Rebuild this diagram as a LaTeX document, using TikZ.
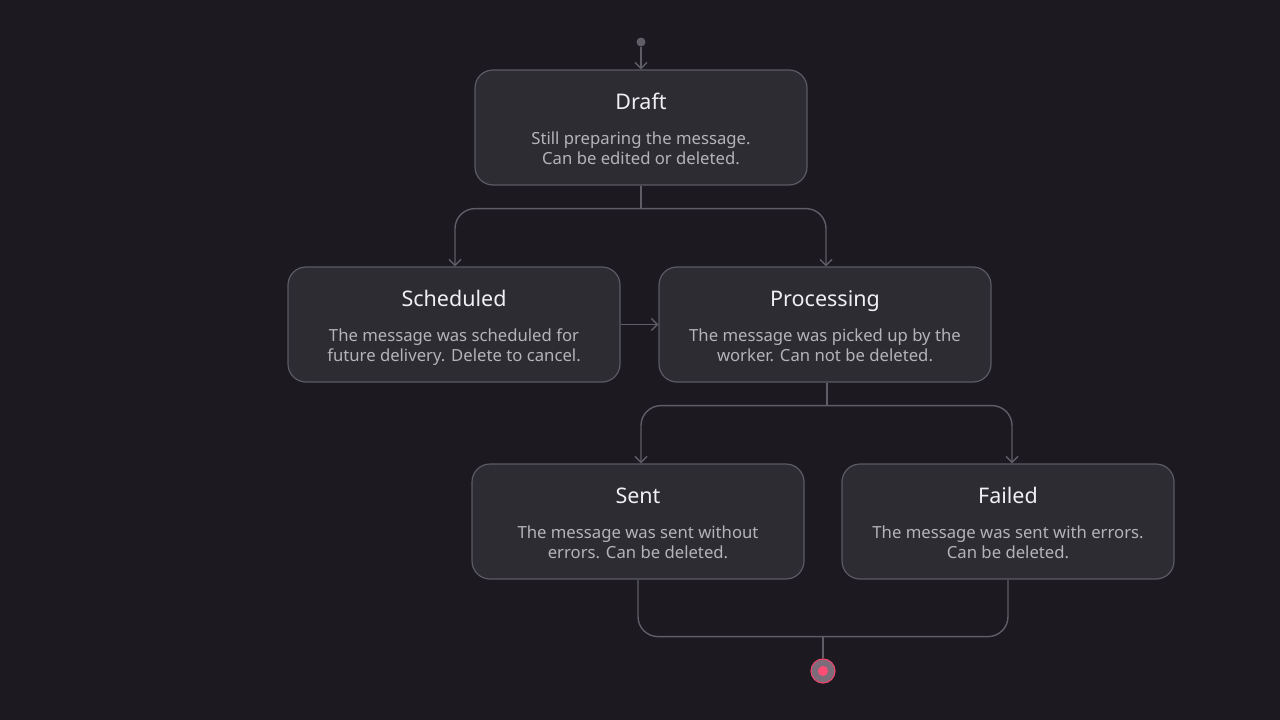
\documentclass[tikz,border=0pt]{standalone}
\usepackage{fontspec}
\setmainfont{Noto Sans}
\usetikzlibrary{arrows.meta,calc}
\definecolor{bg}{HTML}{1C1A20}
\definecolor{boxfill}{HTML}{2E2C33}
\definecolor{boxline}{HTML}{5C5A62}
\definecolor{conn}{HTML}{5F5D65}
\definecolor{titlec}{HTML}{F0EFF2}
\definecolor{bodyc}{HTML}{B5B3BA}
\definecolor{endring}{HTML}{E5486C}
\definecolor{endfill}{HTML}{7D6C79}
\definecolor{enddot}{HTML}{FF4D73}
\tikzset{
  statebox/.style={draw=boxline, fill=boxfill, line width=1.2pt, rounded corners=18pt,
    minimum width=332pt, minimum height=115pt, inner sep=0pt},
  titletext/.style={text=titlec, font=\fontsize{21.5}{26}\selectfont, inner sep=0pt, anchor=base},
  bodytext/.style={text=bodyc, font=\fontsize{16.7}{20}\selectfont, align=center, inner sep=0pt, anchor=base},
  connline/.style={draw=conn, line width=1.4pt},
  arr/.style={connline, -{Straight Barb[length=6pt,width=12pt]}},
}
\begin{document}
\begin{tikzpicture}[x=1pt,y=-1pt]
\fill[bg] (0,0) rectangle (1280,720);
\useasboundingbox (0,0) rectangle (1280,720);

\node[statebox] (draft) at (641,127.5) {};
\node[titletext] (draftT) at ($(draft.north)+(0,40)$) {Draft};
\node[bodytext] (draftB) at ($(draft.north)+(0,95)$) {Still preparing the message.\\Can be edited or deleted.};

\node[statebox] (sched) at (454,324.5) {};
\node[titletext] (schedT) at ($(sched.north)+(0,40)$) {Scheduled};
\node[bodytext] (schedB) at ($(sched.north)+(0,95)$) {The message was scheduled for\\future delivery. Delete to cancel.};

\node[statebox] (proc) at (825,324.5) {};
\node[titletext] (procT) at ($(proc.north)+(0,40)$) {Processing};
\node[bodytext] (procB) at ($(proc.north)+(0,95)$) {The message was picked up by the\\worker. Can not be deleted.};

\node[statebox] (sent) at (638,521.5) {};
\node[titletext] (sentT) at ($(sent.north)+(0,40)$) {Sent};
\node[bodytext] (sentB) at ($(sent.north)+(0,95)$) {The message was sent without\\errors. Can be deleted.};

\node[statebox] (failed) at (1008,521.5) {};
\node[titletext] (failedT) at ($(failed.north)+(0,40)$) {Failed};
\node[bodytext] (failedB) at ($(failed.north)+(0,95)$) {The message was sent with errors.\\Can be deleted.};

\node[circle, fill=conn, minimum size=9pt, inner sep=0pt] (start) at (641,42) {};
\node[circle, draw=endring, fill=endfill, line width=1.2pt, minimum size=24pt, inner sep=0pt] (end) at (823,671) {};
\node[circle, fill=enddot, minimum size=10pt, inner sep=0pt] (enddot) at (end.center) {};

\draw[arr] (start) -- (draft.north);

\coordinate (j1) at ($(draft.south)+(0,23)$);
\draw[connline] (draft.south) -- (j1);
\draw[arr, rounded corners=20pt] (j1) -| ($(sched.north)+(1,0)$);
\draw[arr, rounded corners=20pt] (j1) -| ($(proc.north)+(1,0)$);

\draw[arr] (sched.east) -- (proc.west);

\coordinate (j2) at ($(proc.south)+(2,23)$);
\draw[connline] ($(proc.south)+(2,0)$) -- (j2);
\draw[arr, rounded corners=20pt] (j2) -| ($(sent.north)+(3,0)$);
\draw[arr, rounded corners=20pt] (j2) -| ($(failed.north)+(4,0)$);

\coordinate (j3) at ($(sent.south)!0.5!(failed.south)+(0,57)$);
\draw[connline, rounded corners=20pt] (sent.south) -- ++(0,57) -| (failed.south);
\draw[connline] (j3) -- (end.north);
\end{tikzpicture}
\end{document}
